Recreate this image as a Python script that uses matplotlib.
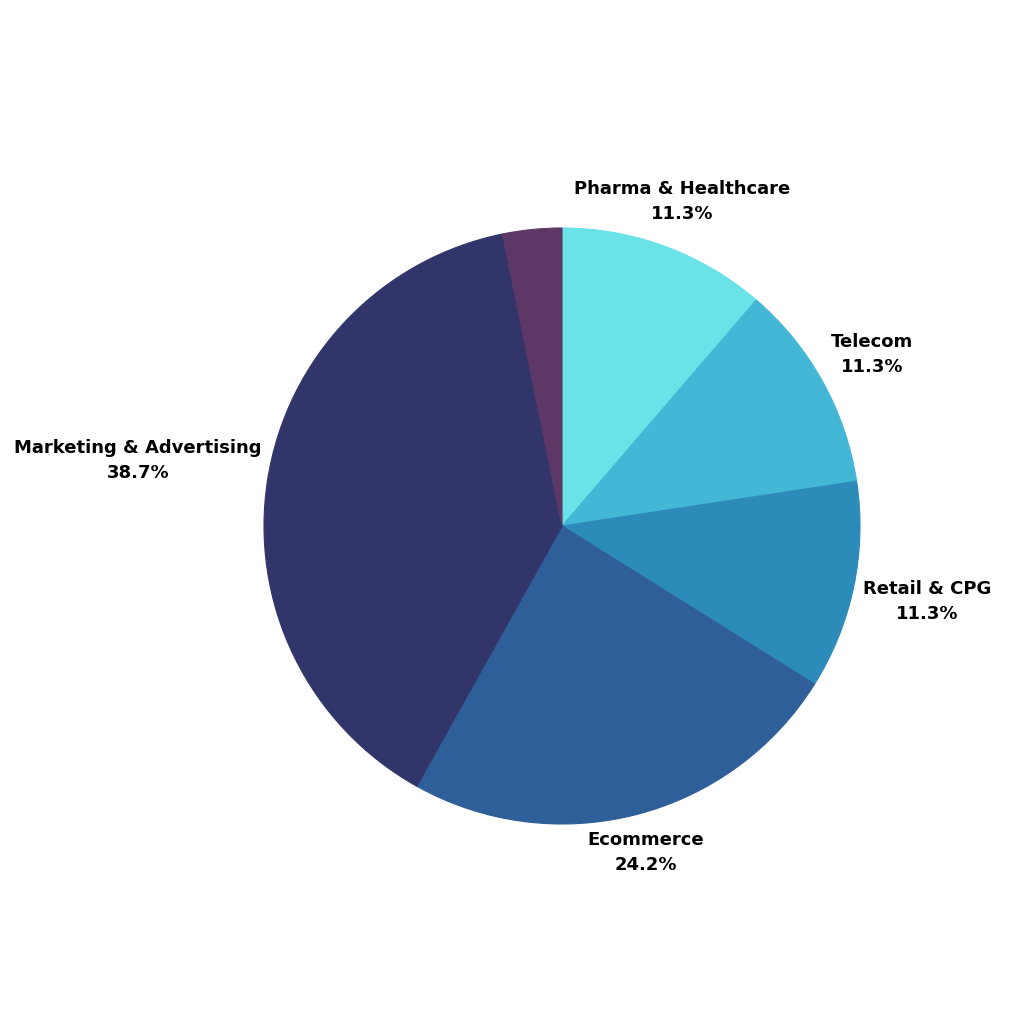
import matplotlib
matplotlib.use('Agg')
import matplotlib.pyplot as plt
import numpy as np

labels = ["Pharma & Healthcare", "Telecom", "Retail & CPG", "Ecommerce", "Marketing & Advertising", ""]
shares = [11.3, 11.3, 11.3, 24.2, 38.7, 3.2]
colors = ["#69E3E8", "#43B7D5", "#2D8BBA", "#2E5F98", "#31356A", "#5D3866"]
label_dist = [1.16, 1.19, 1.25, 1.13, 1.44, 1.2]

fig = plt.figure(figsize=(10.24, 10.24), dpi=100)
ax = fig.add_axes([0, 0, 1, 1])
r_px = 298.0
cx, cy = 562.0, 1024 - 526.0

wedges, _ = ax.pie(shares, colors=colors, startangle=90, counterclock=False,
                   radius=1, wedgeprops=dict(linewidth=0.8, antialiased=True))
for w, c in zip(wedges, colors):
    w.set_edgecolor(c)

ax.set_xlim(-cx / r_px, (1024 - cx) / r_px)
ax.set_ylim(-cy / r_px, (1024 - cy) / r_px)
ax.set_aspect('equal')
ax.axis('off')

for w, lab, val, d in zip(wedges, labels, shares, label_dist):
    if not lab:
        continue
    ang = np.deg2rad((w.theta1 + w.theta2) / 2)
    x, y = d * np.cos(ang), d * np.sin(ang)
    ax.text(x, y, f"{lab}\n{val}%", ha='center', va='center', fontsize=13,
            fontweight='bold', color='black', linespacing=1.5,
            family=['DejaVu Sans'])

fig.savefig('out.png', dpi=100, facecolor='white')
